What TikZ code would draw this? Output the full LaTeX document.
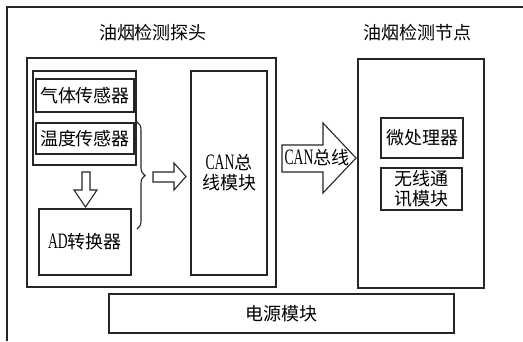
\documentclass[tikz,border=0pt]{standalone}
\usepackage{fontspec}
\usepackage{graphicx}
\setmainfont{Liberation Serif}
\newfontfamily\cjk{Noto Sans CJK SC}
\newfontfamily\latfont{Liberation Serif}
\newcommand{\lat}[1]{\scalebox{0.62}[1]{\latfont\fontsize{22}{20}\selectfont #1}}
\usetikzlibrary{decorations.pathreplacing}
\tikzset{
  ln/.style={draw=black!85, line width=1.1pt},
  box/.style={ln, rectangle, inner sep=0pt, outer sep=0pt, anchor=north west, align=center},
  txt/.style={font=\fontsize{18}{20}\selectfont\cjk, inner sep=0pt, align=center}
}
\begin{document}
\begin{tikzpicture}[x=1pt,y=-1pt]
\useasboundingbox (0,0) rectangle (523,341);
\fill[white] (0,0) rectangle (523,341);
% outer frame (top and left only)
\coordinate (o1) at (7,341);
\coordinate (o2) at (7,7);
\coordinate (o3) at (523,7);
\draw[ln] (o1) -- (o2) -- (o3);

% titles
\node[txt] (t1) at (153,33) {油烟检测探头};
\node[txt] (t2) at (417,33) {油烟检测节点};

% probe
\node[box, minimum width=249pt, minimum height=229pt] (probe) at (27,58) {};
\node[box, minimum width=103pt, minimum height=94pt] (grp) at (33,71) {};
\node[box, minimum width=98pt, minimum height=33pt, txt] (gas) at (36,79) {气体传感器};
\node[box, minimum width=98pt, minimum height=31pt, txt] (temp) at (36,123) {温度传感器};
\node[box, minimum width=92pt, minimum height=66pt, txt] (ad) at (39,209) {\lat{AD}转换器};
\node[box, minimum width=76pt, minimum height=204pt, txt] (can) at (191,71) {\lat{CAN}总\\线模块};

% node
\node[box, minimum width=126pt, minimum height=229pt] (nd) at (358,59) {};
\node[box, minimum width=82pt, minimum height=40pt, txt] (mcu) at (381,118) {微处理器};
\node[box, minimum width=81pt, minimum height=42pt, txt] (wl) at (381,168) {无线通\\讯模块};

% power
\node[box, minimum width=345pt, minimum height=39pt, txt] (pw) at (109,294) {电源模块};

% down hollow arrow
\draw[ln, fill=white] (82,172) -- (90,172) -- (90,190) -- (97,190) -- (85.5,207) -- (74,190) -- (82,190) -- cycle;

% brace
\draw[ln, decorate, decoration={brace, amplitude=8pt}] (137,122) -- (137,229);

% right small hollow arrow
\draw[ln, fill=white] (153,172) -- (174,172) -- (174,163) -- (186,176.5) -- (174,190) -- (174,182) -- (153,182) -- cycle;

% CAN bus arrow
\draw[ln, fill=white] (282,145) -- (323,145) -- (323,123) -- (356,158) -- (323,193) -- (323,172) -- (282,172) -- cycle;
\node[txt] (canlbl) at (317,158) {\lat{CAN}总线};
\end{tikzpicture}
\end{document}
